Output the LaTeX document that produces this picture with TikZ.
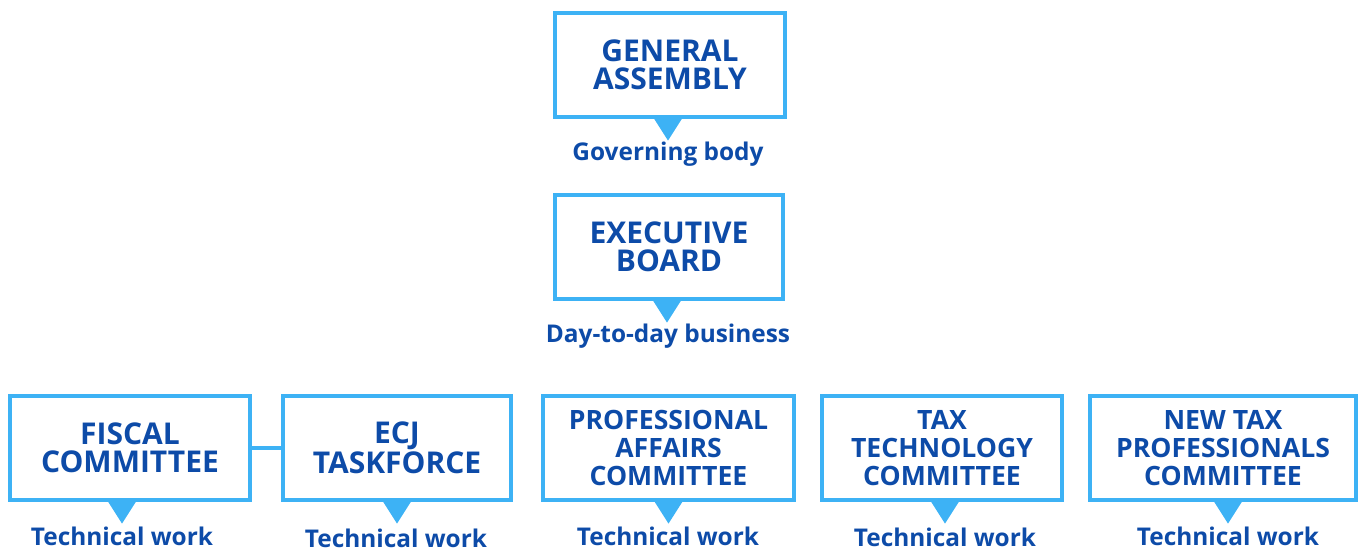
\documentclass[tikz,border=0pt]{standalone}
\usepackage{fontspec}
\setmainfont{Open Sans}
\usepackage{xcolor}
\usetikzlibrary{positioning, calc}

\definecolor{boxblue}{HTML}{3DB2F5}
\definecolor{textblue}{HTML}{0D4BA8}

\begin{document}
\begin{tikzpicture}[x=0.5pt, y=-0.5pt,
		unit/.style={draw=boxblue, line width=1.6pt, fill=white, align=center, inner sep=0pt,
			text=textblue, font=\fontsize{13.3}{13.8}\selectfont\bfseries, minimum height=52pt},
		head/.style={unit, font=\fontsize{15}{13.8}\selectfont\bfseries},
		task/.style={text=textblue, font=\fontsize{12.2}{14}\selectfont\bfseries, inner sep=0pt},
		pointer/.style={fill=boxblue, draw=none},
		link/.style={draw=boxblue, line width=1.6pt}]
		\useasboundingbox (0,0) rectangle (1359,552);

		% Boxes
		\node[head, minimum width=115pt] (GA) at (670,65) {GENERAL\\ASSEMBLY};
		\node[head, minimum width=114pt] (EB) at (669,247) {EXECUTIVE\\BOARD};
		\node[head, minimum width=120pt] (FC) at (130,448) {FISCAL\\COMMITTEE};
		\node[head, minimum width=114pt] (ECJ) at (397,448) {ECJ\\TASKFORCE};
		\node[unit, minimum width=125.5pt] (PAC) at (668.5,448) {PROFESSIONAL\\AFFAIRS\\COMMITTEE};
		\node[unit, minimum width=120pt] (TTC) at (942,448) {TAX\\TECHNOLOGY\\COMMITTEE};
		\node[unit, minimum width=133pt] (NTP) at (1223,448) {NEW TAX\\PROFESSIONALS\\COMMITTEE};

		\draw[link] (FC) -- (ECJ);

		% Pointers
		\fill[pointer] ($(GA.south)+(-1pt,0)$) +(-7pt,0) -- +(7pt,0) -- +(0,-11pt) -- cycle;
		\fill[pointer] ($(EB.south)+(-1pt,0)$) +(-7pt,0) -- +(7pt,0) -- +(0,-11pt) -- cycle;
		\fill[pointer] ($(FC.south)+(-4pt,0)$) +(-7pt,0) -- +(7pt,0) -- +(0,-11pt) -- cycle;
		\fill[pointer] (ECJ.south) +(-7pt,0) -- +(7pt,0) -- +(0,-11pt) -- cycle;
		\fill[pointer] (PAC.south) +(-7pt,0) -- +(7pt,0) -- +(0,-11pt) -- cycle;
		\fill[pointer] ($(TTC.south)+(1.5pt,0)$) +(-7pt,0) -- +(7pt,0) -- +(0,-11pt) -- cycle;
		\fill[pointer] ($(NTP.south)+(2.5pt,0)$) +(-7pt,0) -- +(7pt,0) -- +(0,-11pt) -- cycle;

		% Roles
		\node[task] (GAt) at (668,154) {Governing body};
		\node[task] (EBt) at (668,336) {Day-to-day business};
		\node[task] (FCt) at (122,536) {Technical work};
		\node[task] (ECJt) at (396,538) {Technical work};
		\node[task] (PACt) at (668,536) {Technical work};
		\node[task] (TTCt) at (945,537) {Technical work};
		\node[task] (NTPt) at (1228,536) {Technical work};
	\end{tikzpicture}
\end{document}
